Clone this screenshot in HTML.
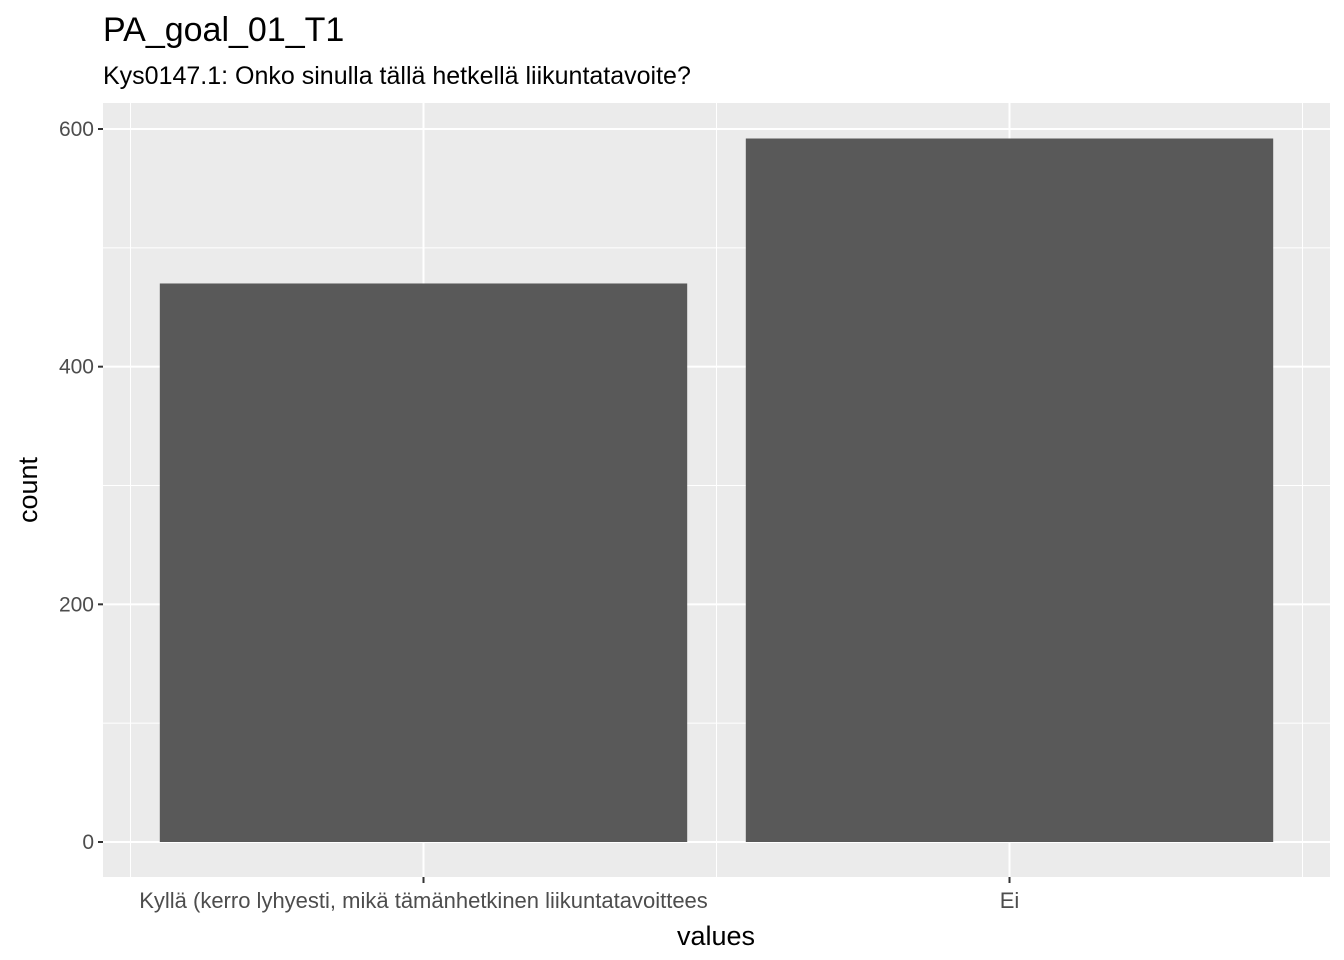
<!DOCTYPE html>
<html><head><meta charset="utf-8"><style>
body{margin:0;background:#fff;}
svg{display:block;font-family:"Liberation Sans",Arial,sans-serif;}
</style></head><body>
<svg id="chart" width="1344" height="960" viewBox="0 0 1344 960"></svg>
<script>
const categories=["Kyllä (kerro lyhyesti, mikä tämänhetkinen liikuntatavoittees","Ei"];
const counts=[470,592];
const yTicks=[0,200,400,600];
const yMinor=[100,300,500];
const svg=document.getElementById('chart');
const NS='http://www.w3.org/2000/svg';
const P={l:103,r:1330,t:103,b:877};
const y0=842, yPer=(842-129)/600;
function ys(v){return y0-v*yPer;}
const step=586;
const off=((P.r-P.l)-step*(categories.length-1))/2;
function xs(i){return P.l+off+step*i;}
function el(t,a,parent){const e=document.createElementNS(NS,t);for(const k in a)e.setAttribute(k,a[k]);(parent||svg).appendChild(e);return e;}
const panel=el('rect',{x:P.l,y:P.t,width:P.r-P.l,height:P.b-P.t,fill:'#ebebeb'});


yMinor.forEach(v=>{const l=el('line',{x1:P.l,x2:P.r,y1:ys(v),y2:ys(v),stroke:'#fff','stroke-width':1});

});
for(let i=0;i<=categories.length;i++){const x=xs(i-0.5);const l=el('line',{x1:x,x2:x,y1:P.t,y2:P.b,stroke:'#fff','stroke-width':1});

}
yTicks.forEach(v=>{const l=el('line',{x1:P.l,x2:P.r,y1:ys(v),y2:ys(v),stroke:'#fff','stroke-width':2});


const tk=el('line',{x1:P.l-5,x2:P.l,y1:ys(v),y2:ys(v),stroke:'#333','stroke-width':2});


const t=el('text',{x:P.l-9,y:ys(v)+7,'text-anchor':'end','font-size':21,fill:'#4d4d4d'});t.textContent=v;

});
categories.forEach((c,i)=>{const x=xs(i);
const g=el('line',{x1:x,x2:x,y1:P.t,y2:P.b,stroke:'#fff','stroke-width':2});


const w=step*0.9;
const b=el('rect',{x:x-w/2,y:ys(counts[i]),width:w,height:ys(0)-ys(counts[i]),fill:'#595959'});


const tk=el('line',{x1:x,x2:x,y1:P.b,y2:P.b+6,stroke:'#333','stroke-width':2});


const t=el('text',{x:x,y:908,'text-anchor':'middle','font-size':22,fill:'#4d4d4d'});t.textContent=c;

});
function txt(s,a,name){const t=el('text',a);t.textContent=s;

}
txt('PA_goal_01_T1',{x:103,y:41,'font-size':34,fill:'#000'},'chart-title');
txt('Kys0147.1: Onko sinulla tällä hetkellä liikuntatavoite?',{x:103,y:84,'font-size':25,fill:'#000'},'chart-subtitle');
txt('values',{x:716,y:945,'text-anchor':'middle','font-size':27,fill:'#000'},'x-axis-title');
txt('count',{x:37,y:490,'text-anchor':'middle','font-size':27,fill:'#000',transform:'rotate(-90 37 490)'},'y-axis-title');
</script>
</body></html>
